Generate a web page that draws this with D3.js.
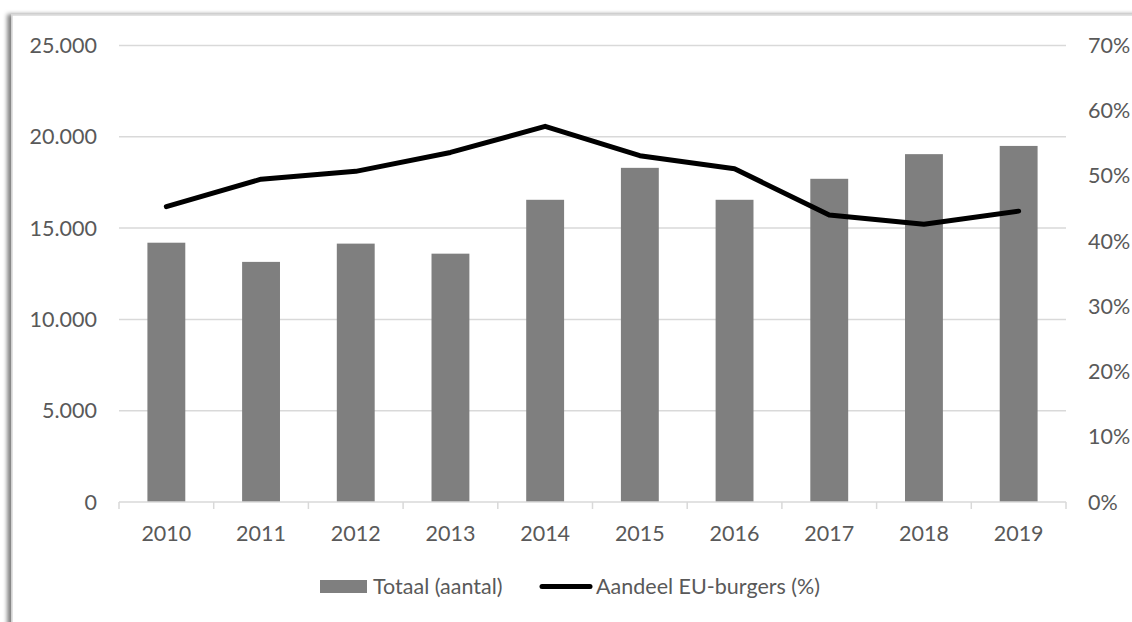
<!DOCTYPE html>
<html>
<head>
<meta charset="utf-8">
<script src="https://cdn.jsdelivr.net/npm/d3@7"></script>
<style>
  html, body { margin: 0; padding: 0; background: #fff; }
  svg text { font-family: Lato, "Open Sans", sans-serif; fill: #595959; }
</style>
</head>
<body>
<svg id="chart" width="1132" height="622"></svg>
<script>
// Data
var years = ['2010', '2011', '2012', '2013', '2014', '2015', '2016', '2017', '2018', '2019'];
var totaal = [14200, 13150, 14150, 13600, 16550, 18300, 16550, 17700, 19050, 19500];
var aandeelEU = [45.3, 49.5, 50.7, 53.6, 57.6, 53.1, 51.1, 44.0, 42.6, 44.6];
var leftTicks = [0, 5000, 10000, 15000, 20000, 25000];
var rightTicks = [0, 10, 20, 30, 40, 50, 60, 70];
var legendLabels = ['Totaal (aantal)', 'Aandeel EU-burgers (%)'];

var svg = d3.select('#chart');
var W = 1132, H = 622;
var M = { left: 119, right: 1066, top: 45.5, bottom: 502 };
var FS = 21.5;

// Frame with shadow on the left
var defs = svg.append('defs');
var f = defs.append('filter').attr('id', 'shadow').attr('x', '-5%').attr('y', '-5%').attr('width', '110%').attr('height', '110%');
f.append('feDropShadow').attr('dx', -4).attr('dy', 0).attr('stdDeviation', 2).attr('flood-color', '#000').attr('flood-opacity', 0.5);
svg.append('rect').attr('x', 12).attr('y', 15).attr('width', W + 20).attr('height', H + 20)
  .attr('fill', '#fff').attr('stroke', '#d9d9d9').attr('stroke-width', 1.5).attr('filter', 'url(#shadow)');

var x = d3.scaleBand().domain(years).range([M.left, M.right]).paddingInner(0.6).paddingOuter(0.3);
var xb = d3.scaleBand().domain(years).range([M.left, M.right]);
var yL = d3.scaleLinear().domain([0, 25000]).range([M.bottom, M.top]);
var yR = d3.scaleLinear().domain([0, 70]).range([M.bottom, M.top]);

// Gridlines
svg.append('g').selectAll('line').data(leftTicks.slice(1)).join('line')
  .attr('x1', M.left).attr('x2', M.right)
  .attr('y1', function(d) { return yL(d); }).attr('y2', function(d) { return yL(d); })
  .attr('stroke', '#d9d9d9').attr('stroke-width', 1.5);

// Left axis labels
var fmt = function(d) { return d === 0 ? '0' : d3.format(',')(d).replace(/,/g, '.'); };
svg.append('g').selectAll('text').data(leftTicks).join('text')
  .attr('x', 97).attr('y', function(d) { return yL(d); }).attr('dy', '0.35em')
  .attr('text-anchor', 'end').attr('font-size', FS).text(fmt);

// Right axis labels
svg.append('g').selectAll('text').data(rightTicks).join('text')
  .attr('x', 1088).attr('y', function(d) { return yR(d); }).attr('dy', '0.35em')
  .attr('text-anchor', 'start').attr('font-size', FS).text(function(d) { return d + '%'; });

// Bars
svg.append('g').selectAll('rect').data(years).join('rect')
  .attr('x', function(d) { return x(d); }).attr('width', x.bandwidth())
  .attr('y', function(d, i) { return yL(totaal[i]); })
  .attr('height', function(d, i) { return yL(0) - yL(totaal[i]); })
  .attr('fill', '#7f7f7f');

// X axis line and ticks
var ax = svg.append('g').attr('stroke', '#d9d9d9').attr('stroke-width', 1.5);
ax.append('line').attr('x1', M.left).attr('x2', M.right).attr('y1', M.bottom).attr('y2', M.bottom);
ax.selectAll('line.tick').data(years.concat(['end'])).join('line').attr('class', 'tick')
  .attr('x1', function(d) { return d === 'end' ? M.right : xb(d); })
  .attr('x2', function(d) { return d === 'end' ? M.right : xb(d); })
  .attr('y1', M.bottom).attr('y2', M.bottom + 7);

svg.append('g').selectAll('text').data(years).join('text')
  .attr('x', function(d) { return xb(d) + xb.bandwidth() / 2; }).attr('y', 533.5).attr('dy', '0.35em')
  .attr('text-anchor', 'middle').attr('font-size', FS).text(function(d) { return d; });

// Line
var line = d3.line()
  .x(function(d, i) { return xb(years[i]) + xb.bandwidth() / 2; })
  .y(function(d) { return yR(d); });
svg.append('path').datum(aandeelEU).attr('d', line)
  .attr('fill', 'none').attr('stroke', '#000').attr('stroke-width', 5)
  .attr('stroke-linejoin', 'round').attr('stroke-linecap', 'round');

// Legend
var lg = svg.append('g');
lg.append('rect').attr('x', 320).attr('y', 580).attr('width', 47).attr('height', 13).attr('fill', '#7f7f7f');
lg.append('text').attr('x', 373).attr('y', 586.5).attr('dy', '0.35em').attr('font-size', FS).text(legendLabels[0]);
lg.append('line').attr('x1', 542).attr('x2', 590).attr('y1', 586.5).attr('y2', 586.5)
  .attr('stroke', '#000').attr('stroke-width', 5).attr('stroke-linecap', 'round');
lg.append('text').attr('x', 596).attr('y', 586.5).attr('dy', '0.35em').attr('font-size', FS).text(legendLabels[1]);
</script>
</body>
</html>
